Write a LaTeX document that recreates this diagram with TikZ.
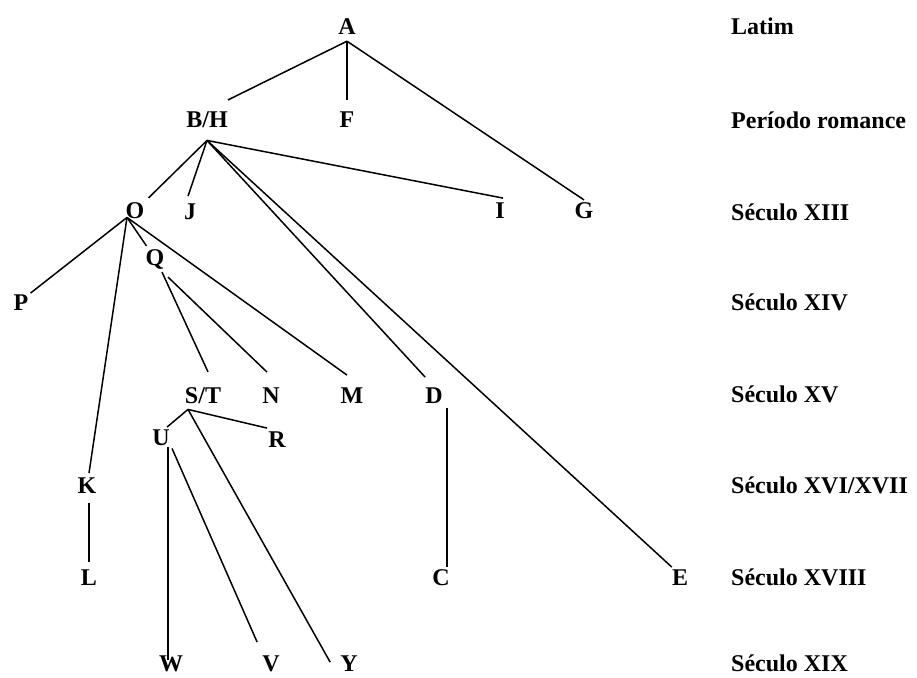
\documentclass[tikz,border=0pt]{standalone}
\usepackage{fontspec}
\setmainfont{Liberation Serif}
\begin{document}
\begin{tikzpicture}[x=1pt,y=-1pt,
  lab/.style={inner sep=0pt,anchor=base,font=\fontsize{24}{28}\selectfont\bfseries},
  era/.style={inner sep=0pt,anchor=base west,font=\fontsize{24}{28}\selectfont\bfseries},
  edge/.style={draw=black,line width=1.5pt}]
\useasboundingbox (0,0) rectangle (917,677);

% tree nodes (base line positions)
\node[lab] (A)  at (347,35)  {A};
\node[lab] (BH) at (207,127) {B/H};
\node[lab] (F)  at (347,127) {F};
\node[lab] (O)  at (135,218) {O};
\node[lab] (J)  at (190,219) {J};
\node[lab] (I)  at (500,218) {I};
\node[lab] (G)  at (584,218) {G};
\node[lab] (Q)  at (155,265) {Q};
\node[lab] (P)  at (21,310)  {P};
\node[lab] (ST) at (203,403) {S/T};
\node[lab] (N)  at (271,403) {N};
\node[lab] (M)  at (352,403) {M};
\node[lab] (D)  at (434,403) {D};
\node[lab] (U)  at (161,445) {U};
\node[lab] (R)  at (277,447) {R};
\node[lab] (K)  at (87,493)  {K};
\node[lab] (L)  at (89,585)  {L};
\node[lab] (C)  at (441,585) {C};
\node[lab] (E)  at (680,585) {E};
\node[lab] (W)  at (171,671) {W};
\node[lab] (V)  at (271,671) {V};
\node[lab] (Y)  at (349,671) {Y};

% period labels
\node[era] (e1) at (731,35)  {Latim};
\node[era] (e2) at (731,128) {Período romance};
\node[era] (e3) at (731,220) {Século XIII};
\node[era] (e4) at (731,310) {Século XIV};
\node[era] (e5) at (731,402) {Século XV};
\node[era] (e6) at (731,493) {Século XVI/XVII};
\node[era] (e7) at (731,585) {Século XVIII};
\node[era] (e8) at (731,671) {Século XIX};

% branching points
\coordinate (A-o)  at ([yshift=-6pt]A.south);
\coordinate (BH-o) at ([yshift=-13pt]BH.south);
\coordinate (O-o)  at ([shift={(-8pt,1pt)}]O.south);
\coordinate (ST-o) at ([shift={(-15pt,-6pt)}]ST.south);

% branches
\draw[edge] (A-o) -- ([yshift=11pt]BH.north east);
\draw[edge] (A-o) -- ([yshift=11pt]F.north);
\draw[edge] (A-o) -- ([yshift=2pt]G.north);

\draw[edge] (BH-o) -- ([shift={(4pt,4pt)}]O.north east);
\draw[edge] (BH-o) -- ([shift={(-2pt,7pt)}]J.north);
\draw[edge] (BH-o) -- ([shift={(3pt,4pt)}]I.north);
\draw[edge] (BH-o) -- ([yshift=10pt]D.north west);
\draw[edge] (BH-o) -- ([yshift=2pt]E.north west);

\draw[edge] (O-o) -- ([shift={(2pt,1pt)}]P.north east);
\draw[edge] (O-o) -- ([shift={(1pt,3pt)}]Q.north west);
\draw[edge] (O-o) -- ([shift={(2pt,4pt)}]K.north);
\draw[edge] (O-o) -- ([shift={(-5pt,12pt)}]M.north);

\draw[edge] ([shift={(7pt,-3pt)}]Q.south) -- ([shift={(5pt,15pt)}]ST.north);
\draw[edge] ([shift={(13pt,-8pt)}]Q.south) -- ([shift={(-4pt,15pt)}]N.north);

\draw[edge] (ST-o) -- ([shift={(6pt,2pt)}]U.north);
\draw[edge] (ST-o) -- ([shift={(-1pt,3pt)}]R.north west);
\draw[edge] (ST-o) -- ([shift={(-10pt,-7pt)}]Y.north west);

\draw[edge] ([shift={(7pt,-2pt)}]U.south) -- ([shift={(-3pt,-5pt)}]W.north);
\draw[edge] ([shift={(11pt,-3pt)}]U.south) -- ([shift={(-5pt,13pt)}]V.north west);

\draw[edge] ([shift={(13pt,-5pt)}]D.south) -- ([shift={(6pt,2pt)}]C.north);
\draw[edge] ([shift={(2pt,-10pt)}]K.south) -- ([yshift=7pt]L.north);
\end{tikzpicture}
\end{document}
